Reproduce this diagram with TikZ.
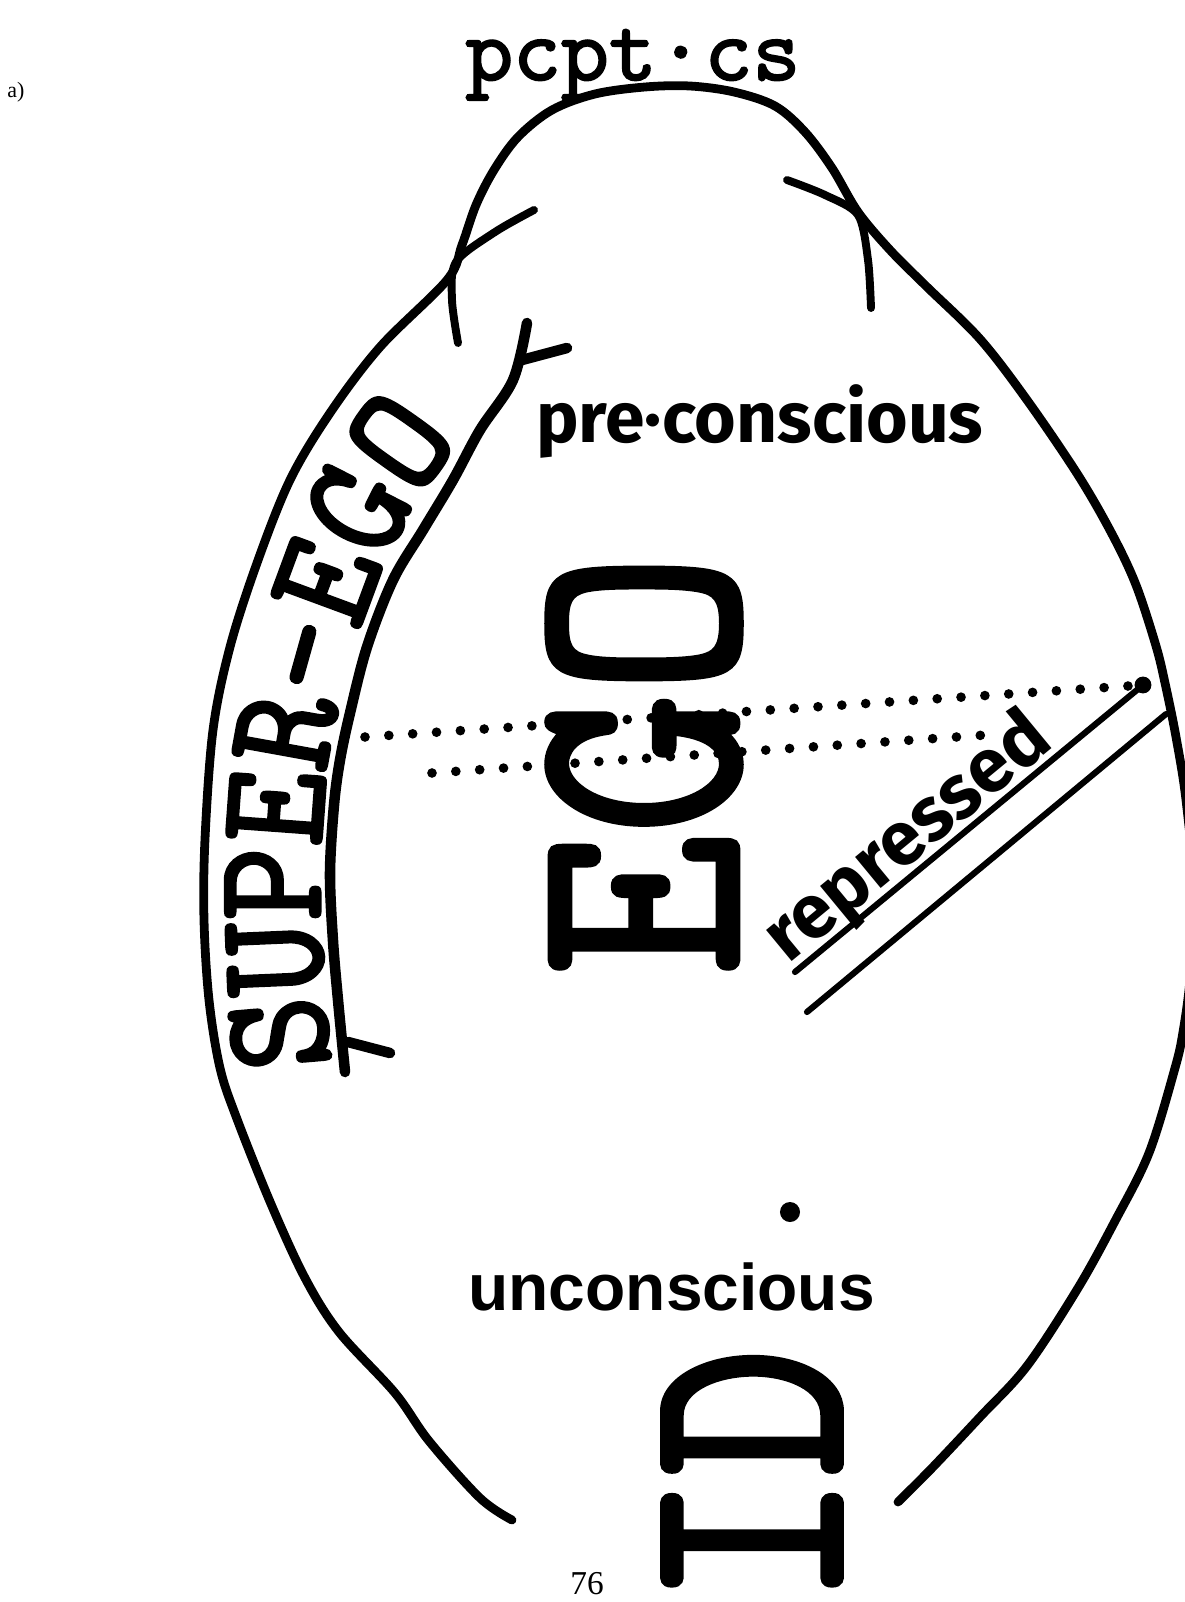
\documentclass[tikz,border=0pt]{standalone}
\usepackage{fontspec}
\setmainfont{Liberation Serif}
\newfontfamily\handfont{Fira Sans}
\newfontfamily\printfont{Liberation Sans}
\newfontfamily\stencil[FakeBold=2]{lmmono10-regular.otf}
\newfontfamily\bandfont[FakeStretch=0.9, FakeBold=2.2]{lmmono10-regular.otf}
\usetikzlibrary{decorations.text}
\newlength\pxu
\setlength\pxu{0.02cm}
\tikzset{
  egg/.style={line width=5pt, line cap=round, line join=round},
  band/.style={line width=6pt, line cap=round, line join=round},
  tick/.style={line width=4.5pt, line cap=round, line join=round},
  repline/.style={line width=3.5pt, line cap=round},
  dotrow/.style={line width=5.5pt, line cap=round, dash pattern=on 0pt off 13.6pt},
  lettering/.style={inner sep=0pt}
}

\begin{document}
\begin{tikzpicture}[x=0.02cm, y=-0.02cm]
\useasboundingbox (0,0) rectangle (1185,1602);
\clip (0,0) rectangle (1185,1602);

% outer egg
\draw[egg] plot[smooth, tension=0.55] coordinates {
  (512,1520) (480,1498) (429,1441) (395,1393) (339,1332) (305,1278)
  (271,1204) (237,1119) (220,1068) (209,1000) (204,920) (205,839)
  (213,730) (230,647) (257,563) (290,480) (330,413) (380,347)
  (447,280) (462,245) (476,205) (494,170) (518,137) (552,110) (595,94)
  (645,87) (690,86) (734,92) (775,106) (805,132) (832,168)
  (858,212) (890,250) (926,286) (980,339) (1027,400) (1078,475)
  (1112,534) (1136,585) (1156,646) (1165,683) (1176,737) (1186,800)
  (1195,900) (1190,980) (1183,1032) (1175,1068) (1149,1153)
  (1115,1221) (1078,1288) (1027,1366) (980,1417) (932,1468) (898,1502)};

% pcpt-cs marks
\draw[tick] plot[smooth, tension=0.5] coordinates {(534,210) (495,232) (456,262) (452,300) (458,343)};
\draw[tick] plot[smooth, tension=0.5] coordinates {(787,180) (825,195) (858,215) (868,260) (871,308)};

% super-ego band
\draw[band] plot[smooth, tension=0.55] coordinates {
  (527,323) (513,380) (480,430) (453,480) (423,530) (393,580) (367,647)
  (350,713) (340,760) (334,805) (330,873) (333,941) (338,1000) (345,1072)};
\draw[band] (522,360) -- (567,348);
\draw[band] (348,1042) -- (390,1053);
\path[decorate, decoration={text along path, text align=left,
  text={|\bandfont\fontsize{88}{88}\selectfont|SUPER–EGO}}]
  plot[smooth, tension=0.55] coordinates {
  (330,1066) (323,980) (320,880) (324,800) (331,740) (345,680) (363,620)
  (386,560) (414,505) (448,455) (485,405) (520,360)};

% repressed
\coordinate (blob) at (1143,685);
\fill (blob) circle (4.8pt);
\draw[repline] (blob) -- (795,972);
\draw[repline] (1166,714) -- (807,1012);
\node[lettering, rotate=39.5, anchor=base] (repr) at (922,855)
  {\resizebox{345\pxu}{!}{\handfont\bfseries repressed}};

% censorship lines
\draw[dotrow] (365,737) -- (blob);
\draw[dotrow] (432,773) -- (1000,734);

% labels
\node[lettering, anchor=base west] (figlabel) at (7,97) {\fontsize{12.5}{14}\selectfont a)};
\node[lettering, anchor=base west] (pcpt) at (465,80)
  {\resizebox{335\pxu}{!}{\stencil pcpt·cs}};
\node[lettering, anchor=base west] (precs) at (536,442)
  {\resizebox{447\pxu}{!}{\handfont\bfseries pre·conscious}};
\node[lettering, rotate=90] (ego) at (644,764) {\resizebox{422\pxu}{190\pxu}{\stencil EGO}};
\node[circle, fill, inner sep=0pt, minimum size=11.4pt] (iddot) at (790,1212) {};
\node[lettering, anchor=base west] (uncs) at (468,1310)
  {\printfont\bfseries\fontsize{37.5}{40}\selectfont unconscious};
\node[lettering, rotate=90] (idtext) at (752,1476) {\resizebox{257\pxu}{178\pxu}{\stencil ID}};
\node[lettering, anchor=base west] (pageno) at (570,1594) {\fontsize{19}{21}\selectfont 76};
\end{tikzpicture}
\end{document}
